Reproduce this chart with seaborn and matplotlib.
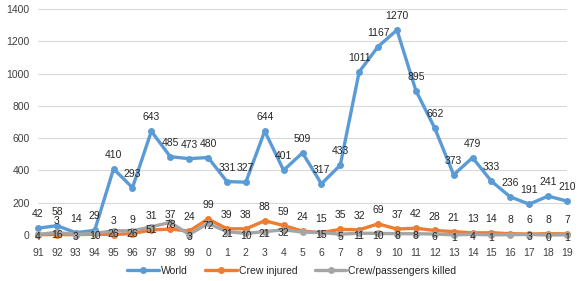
import matplotlib
matplotlib.use("Agg")
import matplotlib.pyplot as plt
import seaborn as sns
import pandas as pd

sns.set_theme(style="white")
plt.rcParams['font.family'] = ['Liberation Sans', 'DejaVu Sans']

years = ['91', '92', '93', '94', '95', '96', '97', '98', '99', '0', '1', '2', '3', '4',
         '5', '6', '7', '8', '9', '10', '11', '12', '13', '14', '15', '16', '17', '18', '19']
world = [42, 58, 14, 29, 410, 293, 643, 485, 473, 480, 331, 327, 644, 401, 509, 317, 433,
         1011, 1167, 1270, 895, 662, 373, 479, 333, 236, 191, 241, 210]
injured = [2, 3, 2, 5, 3, 9, 31, 37, 24, 99, 39, 38, 88, 59, 24, 15, 35, 32, 69, 37, 42,
           28, 21, 13, 14, 8, 6, 8, 7]
killed = [4, 16, 3, 10, 26, 26, 51, 78, 3, 72, 21, 10, 21, 32, 18, 15, 5, 11, 10, 8, 8,
          6, 1, 4, 1, 2, 3, 0, 1]
injured_shown = [False, True, False, False] + [True] * 25
killed_shown = [True] * 14 + [False] + [True] * 10 + [False] + [True] * 3

names = ['World', 'Crew injured', 'Crew/passengers killed']
colors = ['#5B9BD5', '#ED7D31', '#A5A5A5']

df = pd.DataFrame({'x': list(range(len(years))), names[0]: world,
                   names[1]: injured, names[2]: killed})
long = df.melt(id_vars='x', var_name='series', value_name='value')

fig = plt.figure(figsize=(5.84, 2.81), dpi=100)
ax = fig.add_axes([38 / 584, 46 / 281, (567 - 38) / 584, (235 - 9) / 281])

sns.lineplot(data=long, x='x', y='value', hue='series', hue_order=names,
             palette=colors, marker='o', markersize=5, markeredgewidth=0,
             linewidth=2.4, ax=ax, legend=True, sort=False)
for ln in ax.lines:
    ln.set_clip_on(False)

fs = 7.5
ax.set_xlim(0, len(years) - 1)
ax.set_ylim(0, 1400)
ax.set_yticks(range(0, 1401, 200))
ax.set_xticks(range(len(years)))
ax.set_xticklabels(years)
ax.set_xlabel('')
ax.set_ylabel('')
ax.tick_params(axis='both', length=0, labelsize=fs, colors='#404040')
ax.tick_params(axis='x', pad=9)
ax.tick_params(axis='y', pad=6)
for s in ax.spines.values():
    s.set_visible(False)
ax.yaxis.grid(True, color='#D9D9D9', linewidth=0.8)
ax.xaxis.grid(False)
ax.set_axisbelow(True)

lab_kw = dict(textcoords='offset points', ha='center', va='center', fontsize=fs,
              color='#262626', annotation_clip=False)
for i, v in enumerate(world):
    ax.annotate(str(v), (i, v), xytext=(0, 10), **lab_kw)
for i, v in enumerate(injured):
    if injured_shown[i]:
        ax.annotate(str(v), (i, v), xytext=(0, 10), **lab_kw)
for i, v in enumerate(killed):
    if killed_shown[i]:
        ax.annotate(str(v), (i, v), xytext=(0, -2), **lab_kw)

handles, labels = ax.get_legend_handles_labels()
ax.legend(handles, labels, loc='center', bbox_to_anchor=(0.5, 10 / 281),
          bbox_transform=fig.transFigure, ncol=3, frameon=False, fontsize=fs,
          handlelength=3.0, handletextpad=0.2, columnspacing=1.7, labelcolor='#262626')

fig.savefig('out.png', dpi=100)
